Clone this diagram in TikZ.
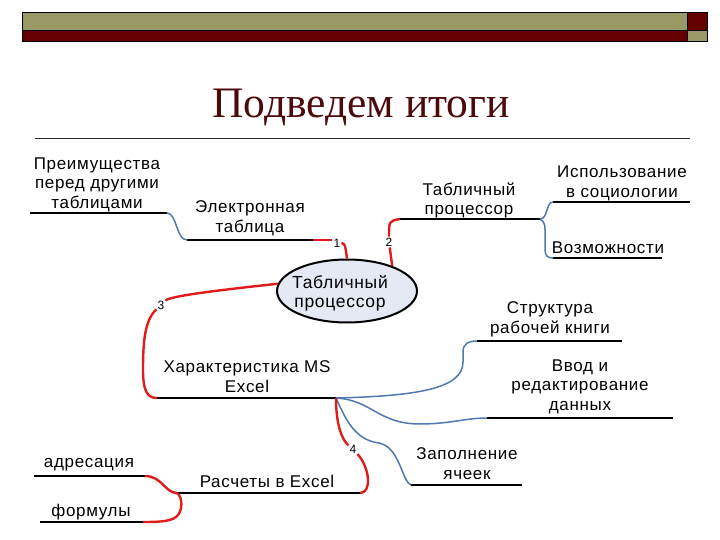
\documentclass[tikz,border=0pt]{standalone}
\usepackage{fontspec}
\setmainfont{Liberation Serif}
\setsansfont{Liberation Sans}[LetterSpace=4]
\usepackage{xcolor}
\usepackage{tikz}
\usetikzlibrary{shapes}

\definecolor{barolive}{HTML}{999966}
\definecolor{barred}{HTML}{660000}
\definecolor{titlered}{HTML}{4C0A0A}
\definecolor{linkred}{HTML}{E01B1B}
\definecolor{linkblue}{HTML}{5079B2}
\definecolor{ovalblue}{HTML}{E4E9F4}

\begin{document}
\begin{tikzpicture}[x=1pt,y=-1pt,
    topic/.style={font=\sffamily\fontsize{17}{19.5}\selectfont, align=center, inner sep=0pt, yshift=-0.5pt},
    num/.style={font=\sffamily\fontsize{12}{12}\selectfont, inner sep=1pt},
    uline/.style={black, line width=2pt},
    redlink/.style={linkred, line width=2.4pt},
    bluelink/.style={linkblue, line width=1.5pt}]
    \useasboundingbox (0,0) rectangle (720,540);

    % header bars
    \filldraw[fill=barolive, draw=black, line width=0.8pt] (22,12) rectangle (687,30);
    \filldraw[fill=barred, draw=black, line width=0.8pt] (22,30) rectangle (687,41);
    \filldraw[fill=barred, draw=black, line width=0.8pt] (687,12) rectangle (707,30);
    \filldraw[fill=barolive, draw=black, line width=0.8pt] (687,30) rectangle (707,41);

    \node[font=\fontsize{43.5}{44}\selectfont, text=titlered, anchor=base] (title) at (361,118) {Подведем итоги};
    \draw[black!85, line width=0.8pt] (35,138) -- (690,138);

    % underlines of the branches
    \foreach \name/\xa/\xb/\y in {pr/30/167/213, et/187/313/240, tp/400/540/219,
        is/553/690/202, vz/553/662/258, ch/157/336/398, st/477/622/341,
        vv/487/673/418, zp/411/522/485, rs/177/360/493, ad/34/145/476, fm/40/143/522} {
        \draw[uline] (\xa,\y) coordinate (\name-l) -- (\xb,\y) coordinate (\name-r);
    }

    \node[topic] (pr-t) at (97,184) {Преимущества\\перед другими\\таблицами};
    \node[topic] (et-t) at (250,218) {Электронная\\таблица};
    \node[topic] (tp-t) at (469,200) {Табличный\\процессор};
    \node[topic] (is-t) at (622,183) {Использование\\в социологии};
    \node[topic] (vz-t) at (608,247) {Возможности};
    \node[topic] (ch-t) at (247,376) {Характеристика MS\\Excel};
    \node[topic] (st-t) at (550,319) {Структура\\рабочей книги};
    \node[topic] (vv-t) at (580,386) {Ввод и\\редактирование\\данных};
    \node[topic] (zp-t) at (467,463) {Заполнение\\ячеек};
    \node[topic] (rs-t) at (267,481) {Расчеты в Excel};
    \node[topic] (ad-t) at (89,464) {адресация};
    \node[topic] (fm-t) at (91,512) {формулы};

    \node[num] (n1) at (337,243) {1};
    \node[num] (n2) at (389,242) {2};
    \node[num] (n3) at (161,305) {3};
    \node[num] (n4) at (353,449) {4};

    % branch 1
    \draw[bluelink] (pr-r) .. controls (177,213) and (176,240) .. (et-l);
    \draw[redlink] (et-r) -- (et-r -| n1.west);

    % branch 2
    \draw[redlink] (n2) .. controls (389,221) .. (tp-l);
    \draw[bluelink] (tp-r) .. controls (548,219) and (546,202) .. (is-l);
    \draw[bluelink] (tp-r) .. controls (546,222) and (545,228) .. (545,236) -- (545,250)
        .. controls (545,256) and (548,258) .. (vz-l);

    % branch 3
    \draw[redlink] (n3) .. controls (145,320) and (143,340) .. (143,370)
        .. controls (143,392) and (148,398) .. (ch-l);
    \draw[bluelink] (ch-r) .. controls (420,396) and (463,388) .. (463,362) -- (463,352)
        .. controls (463,344) and (468,341) .. (st-l);
    \draw[bluelink] (ch-r) .. controls (372,400) and (378,424) .. (420,424)
        .. controls (450,424) and (465,418) .. (vv-l);
    \draw[bluelink] (ch-r) .. controls (346,420) and (355,440) .. (379,443)
        .. controls (400,447) and (402,482) .. (zp-l);

    % branch 4
    \draw[redlink] (ch-r) .. controls (336,425) and (342,440) .. (n4);
    \draw[redlink] (n4) .. controls (370,468) and (372,493) .. (rs-r);
    \draw[redlink] (rs-l) .. controls (165,493) and (162,476) .. (ad-r);
    \draw[redlink] (rs-l) .. controls (183,497) and (183,512) .. (176,517)
        .. controls (170,522) and (155,522) .. (fm-r);

    % centre
    \node[ellipse, draw, line width=2pt, fill=ovalblue, minimum width=140pt, minimum height=63pt,
        inner sep=0pt] (tp) at (347,291) {};
    \node[align=center, inner sep=0pt, font=\sffamily\fontsize{17.5}{19}\selectfont] (tp-c) at (340,293)
        {Табличный\\процессор};
    \draw[redlink] (n1.east) .. controls (345,244) .. (tp.north);
    \draw[redlink] (tp.29) -- (n2);
    \draw[redlink] (tp.174) .. controls (220,290) and (170,296) .. (n3);
\end{tikzpicture}
\end{document}
